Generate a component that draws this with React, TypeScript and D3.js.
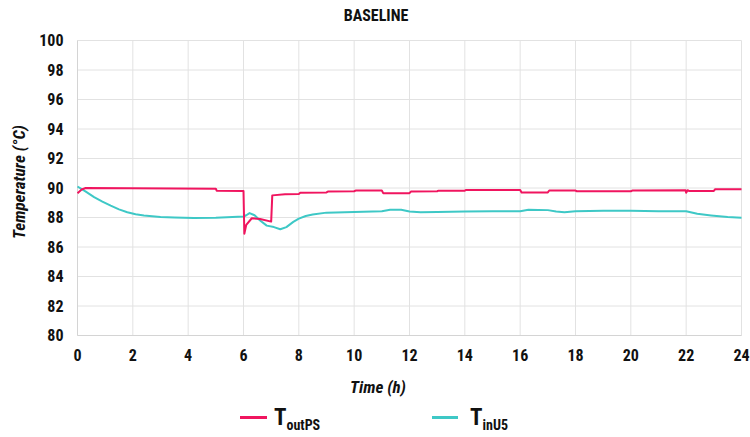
import React from "react";
import * as d3 from "d3";

const FONT = "'Liberation Sans Narrow', 'Arial Narrow', 'Roboto Condensed', 'DejaVu Sans Condensed', sans-serif";

const title = "BASELINE";
const xLabel = "Time (h)";
const yLabel = "Temperature (°C)";
const xTicks = [0, 2, 4, 6, 8, 10, 12, 14, 16, 18, 20, 22, 24];
const yTicks = [80, 82, 84, 86, 88, 90, 92, 94, 96, 98, 100];

const outPSTime = [0, 0.15, 0.3, 5.0, 5.03, 6.0, 6.03, 6.1, 6.3, 6.6, 7.0, 7.04, 7.5, 8.0, 8.05, 9.0, 9.05, 10.0, 10.05, 11.0, 11.05, 12.0, 12.05, 13.0, 13.05, 14.0, 14.05, 16.0, 16.05, 17.0, 17.05, 18.0, 18.05, 20.0, 20.05, 21.98, 22.0, 22.05, 22.1, 23.0, 23.05, 24];
const outPSValue = [89.65, 89.9, 90.0, 89.95, 89.82, 89.8, 86.9, 87.5, 87.95, 87.9, 87.72, 89.5, 89.58, 89.6, 89.68, 89.7, 89.76, 89.78, 89.83, 89.83, 89.65, 89.65, 89.76, 89.78, 89.82, 89.82, 89.87, 89.87, 89.7, 89.7, 89.83, 89.83, 89.78, 89.78, 89.83, 89.84, 89.68, 89.85, 89.8, 89.8, 89.92, 89.92];

const inU5Time = [0, 0.3, 0.6, 0.9, 1.2, 1.5, 1.8, 2.1, 2.4, 3.0, 3.5, 4.2, 5.0, 5.6, 6.0, 6.1, 6.22, 6.4, 6.6, 6.84, 7.1, 7.33, 7.55, 7.8, 8.0, 8.25, 8.5, 9.0, 10.0, 11.0, 11.3, 11.7, 12.0, 12.4, 13.0, 14.0, 15.0, 16.0, 16.3, 17.0, 17.3, 17.6, 18.0, 19.0, 20.0, 21.0, 22.0, 22.4, 22.9, 23.5, 24];
const inU5Value = [90.1, 89.75, 89.38, 89.08, 88.8, 88.55, 88.36, 88.22, 88.14, 88.04, 88.0, 87.97, 87.98, 88.03, 88.07, 88.15, 88.3, 88.15, 87.8, 87.45, 87.35, 87.2, 87.35, 87.7, 87.92, 88.1, 88.2, 88.33, 88.38, 88.42, 88.52, 88.52, 88.4, 88.36, 88.38, 88.4, 88.42, 88.43, 88.52, 88.5, 88.4, 88.36, 88.42, 88.45, 88.45, 88.43, 88.42, 88.25, 88.14, 88.03, 87.98];

const RED = "#f0155f";
const CYAN = "#3ec8c6";

export default function App() {
  const W = 750, H = 437;
  const left = 77.5, right = 741.5, top = 40.5, bottom = 335.5;
  const x = d3.scaleLinear().domain([0, 24]).range([left, right]);
  const y = d3.scaleLinear().domain([80, 100]).range([bottom, top]);
  const line = d3.line<[number, number]>().x(d => x(d[0])).y(d => y(d[1]));
  const redPts = outPSTime.map((t, i) => [t, outPSValue[i]] as [number, number]);
  const cyanPts = inU5Time.map((t, i) => [t, inU5Value[i]] as [number, number]);

  return (
    <svg width={W} height={H} style={{ position: "absolute", left: 0, top: 0, background: "#fff" }} fontFamily={FONT}>
      <text x={376} y={21} textAnchor="middle" fontSize={16} fontWeight="bold" fill="#111">{title}</text>
      {yTicks.map(v => (
        <line key={"gy" + v} x1={left} x2={right} y1={y(v)} y2={y(v)} stroke="#e2e2e2" strokeWidth={1} />
      ))}
      {xTicks.map(v => (
        <line key={"gx" + v} x1={x(v)} x2={x(v)} y1={top} y2={bottom} stroke="#e2e2e2" strokeWidth={1} />
      ))}
      <line x1={left} x2={left} y1={top} y2={bottom} stroke="#d4d4d4" />
      <line x1={left} x2={right} y1={bottom} y2={bottom} stroke="#d4d4d4" />
      {yTicks.map(v => (
        <text key={"ty" + v} x={63.5} y={y(v) + 5.5} textAnchor="end" fontSize={16} fontWeight="bold" fill="#111">{v}</text>
      ))}
      {xTicks.map(v => (
        <text key={"tx" + v} x={x(v)} y={361} textAnchor="middle" fontSize={16} fontWeight="bold" fill="#111">{v}</text>
      ))}
      <text x={378} y={393} textAnchor="middle" fontSize={17} fontWeight="bold" fontStyle="italic" fill="#111">{xLabel}</text>
      <text transform="translate(25,182) rotate(-90)" textAnchor="middle" fontSize={17} fontWeight="bold" fontStyle="italic" fill="#111">{yLabel}</text>
      <path d={line(cyanPts) || ""} fill="none" stroke={CYAN} strokeWidth={2} strokeLinejoin="round" />
      <path d={line(redPts) || ""} fill="none" stroke={RED} strokeWidth={2} strokeLinejoin="round" />
      <line x1={240} x2={267} y1={417.5} y2={417.5} stroke={RED} strokeWidth={3} />
      <text x={274} y={425} fontSize={23} fontWeight="bold" fill="#111">T<tspan fontSize={14} dy={5}>outPS</tspan></text>
      <line x1={432} x2={458} y1={417.5} y2={417.5} stroke={CYAN} strokeWidth={3} />
      <text x={470} y={425} fontSize={23} fontWeight="bold" fill="#111">T<tspan fontSize={14} dy={5}>inU5</tspan></text>
    </svg>
  );
}
